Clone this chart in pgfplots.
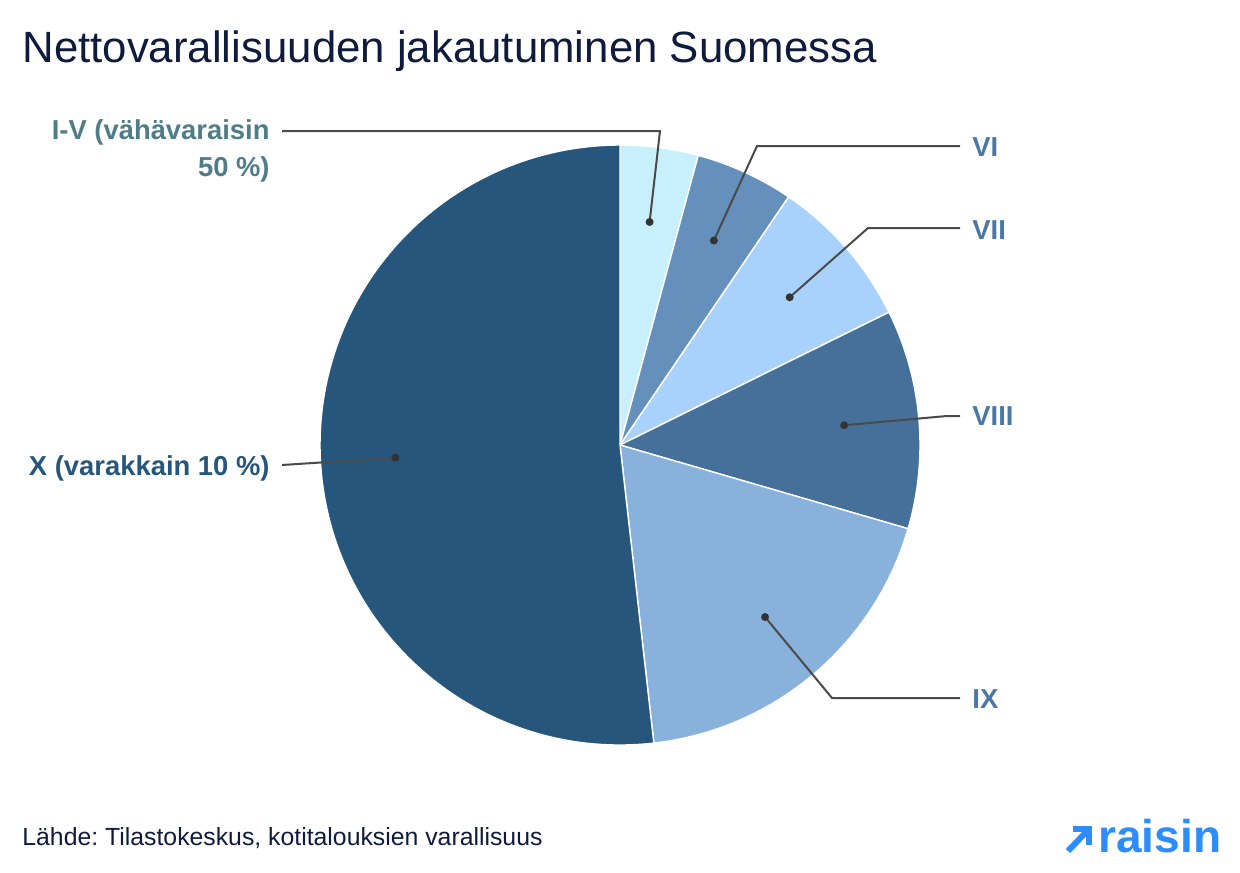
\documentclass[border=0pt]{standalone}
\usepackage{pgfplots}
\pgfplotsset{compat=1.18}
\usepackage{pgfplotstable}
\usepackage{fontspec}
\setmainfont{Liberation Sans}
\frenchspacing

\definecolor{titlecol}{HTML}{0E1B3D}
\definecolor{cIV}{HTML}{C8F0FC}
\definecolor{cVI}{HTML}{6690BC}
\definecolor{cVII}{HTML}{A8D2FC}
\definecolor{cVIII}{HTML}{45709A}
\definecolor{cIX}{HTML}{88B1DC}
\definecolor{cX}{HTML}{26567C}
\definecolor{labteal}{HTML}{507D85}
\definecolor{labblue}{HTML}{4A77A6}
\definecolor{leader}{HTML}{4A4A4A}
\definecolor{dotcol}{HTML}{333333}
\definecolor{logo}{HTML}{2D8CFF}

% share of total net wealth (%) by decile group
\pgfplotstableread{
decile share
I-V    4.2
VI     5.3
VII    8.2
VIII  11.8
IX    18.7
X     51.8
}\shares

\begin{document}
\begin{tikzpicture}
% shares -> slice boundary angles, clockwise from 12 o'clock
\pgfplotstablegetelem{0}{share}\of\shares \let\sA\pgfplotsretval
\pgfplotstablegetelem{1}{share}\of\shares \let\sB\pgfplotsretval
\pgfplotstablegetelem{2}{share}\of\shares \let\sC\pgfplotsretval
\pgfplotstablegetelem{3}{share}\of\shares \let\sD\pgfplotsretval
\pgfplotstablegetelem{4}{share}\of\shares \let\sE\pgfplotsretval
\pgfplotstablegetelem{5}{share}\of\shares \let\sF\pgfplotsretval
\pgfmathsetmacro\aO{90}
\pgfmathsetmacro\aA{\aO-3.6*\sA}
\pgfmathsetmacro\aB{\aA-3.6*\sB}
\pgfmathsetmacro\aC{\aB-3.6*\sC}
\pgfmathsetmacro\aD{\aC-3.6*\sD}
\pgfmathsetmacro\aE{\aD-3.6*\sE}
\pgfmathsetmacro\aF{\aE-3.6*\sF}
% label anchor points at 3/4 radius on each slice's middle angle
\pgfmathsetmacro\mA{(\aO+\aA)/2}
\pgfmathsetmacro\mB{(\aA+\aB)/2}
\pgfmathsetmacro\mC{(\aB+\aC)/2}
\pgfmathsetmacro\mD{(\aC+\aD)/2}
\pgfmathsetmacro\mE{(\aD+\aE)/2}
\pgfmathsetmacro\mF{(\aE+\aF)/2}
\def\cx{620}\def\cy{445}\def\R{300}\def\r{225}
\begin{axis}[
  scale only axis, width=620pt, height=436pt,
  xmin=0, xmax=1240, ymin=0, ymax=872, y dir=reverse,
  hide axis, clip=false,
]
\path (axis cs:0,0) rectangle (axis cs:1240,872);

% pie slices
\foreach \s/\e/\c in {\aO/\aA/cIV, \aA/\aB/cVI, \aB/\aC/cVII, \aC/\aD/cVIII, \aD/\aE/cIX, \aE/\aF/cX}{
  \edef\tmp{\noexpand\filldraw[fill=\c, draw=white, line width=0.7pt, line join=round]
    (axis cs:\cx,\cy) -- (axis cs:{\cx+\R*cos(\s)},{\cy-\R*sin(\s)})
    arc[start angle=\s, end angle=\e, radius=150pt] -- cycle;}
  \tmp
}

% leader lines
\begin{scope}[leader, line width=1pt]
\draw (axis cs:{\cx+\r*cos(\mA)},{\cy-\r*sin(\mA)}) -- (axis cs:660,131) -- (axis cs:282,131);
\draw (axis cs:{\cx+\r*cos(\mB)},{\cy-\r*sin(\mB)}) -- (axis cs:757,146) -- (axis cs:960,146);
\draw (axis cs:{\cx+\r*cos(\mC)},{\cy-\r*sin(\mC)}) -- (axis cs:868,228) -- (axis cs:960,228);
\draw (axis cs:{\cx+\r*cos(\mD)},{\cy-\r*sin(\mD)}) -- (axis cs:947,416) -- (axis cs:960,416);
\draw (axis cs:{\cx+\r*cos(\mE)},{\cy-\r*sin(\mE)}) -- (axis cs:832,698) -- (axis cs:960,698);
\draw (axis cs:{\cx+\r*cos(\mF)},{\cy-\r*sin(\mF)}) -- (axis cs:282,465);
\end{scope}
\foreach \m in {\mA,\mB,\mC,\mD,\mE,\mF}{
  \edef\tmp{\noexpand\fill[dotcol] (axis cs:{\cx+\r*cos(\m)},{\cy-\r*sin(\m)}) circle[radius=2pt];}
  \tmp
}

% decile labels
\begin{scope}[font=\fontsize{13.7}{18}\selectfont\bfseries, inner sep=0pt]
\node[labteal, anchor=base east, align=right] at (axis cs:270,176) {I-V (vähävaraisin\\50 \%)};
\node[labblue, anchor=base west] at (axis cs:972,156) {VI};
\node[labblue, anchor=base west] at (axis cs:972,239) {VII};
\node[labblue, anchor=base west] at (axis cs:972,425) {VIII};
\node[labblue, anchor=base west] at (axis cs:972,708) {IX};
\node[cX, anchor=base east] at (axis cs:270,475) {X (varakkain 10 \%)};
\end{scope}

% title and source
\node[titlecol, anchor=base west, inner sep=0pt, font=\fontsize{21.9}{26}\selectfont]
  at (axis cs:22,63) {Nettovarallisuuden jakautuminen Suomessa};
\node[titlecol, anchor=base west, inner sep=0pt, font=\fontsize{12.4}{15}\selectfont]
  at (axis cs:22,845) {Lähde: Tilastokeskus, kotitalouksien varallisuus};

% logo
\draw[logo, line width=3pt] (axis cs:1068,851) -- (axis cs:1089,829);
\draw[logo, line width=3pt, line join=miter] (axis cs:1073,829) -- (axis cs:1089,829) -- (axis cs:1089,845);
\node[logo, anchor=base west, inner sep=0pt, font=\fontsize{23}{26}\selectfont\bfseries]
  at (axis cs:1098,852) {raisin};
\end{axis}
\end{tikzpicture}
\end{document}
